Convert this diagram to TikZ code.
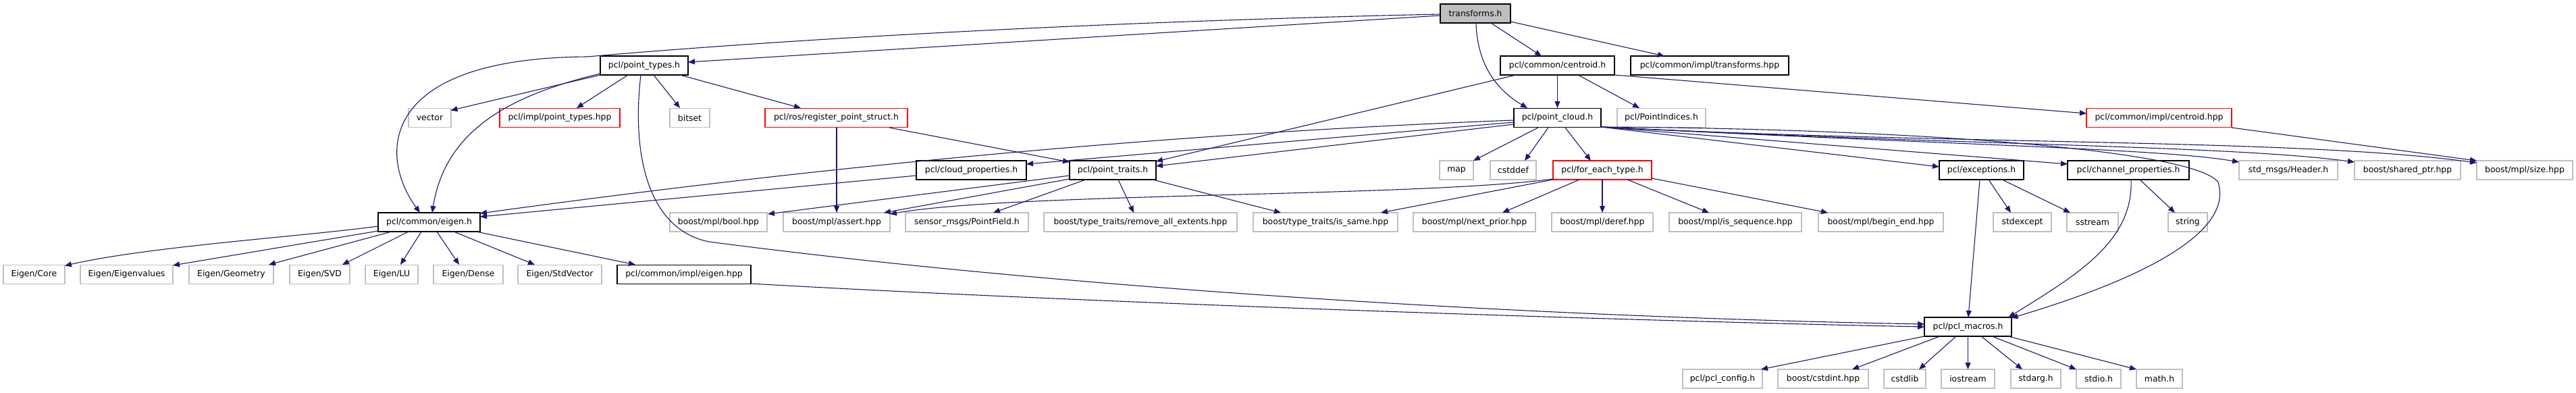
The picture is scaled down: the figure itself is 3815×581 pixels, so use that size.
\documentclass[tikz,border=0pt]{standalone}
\usepackage{fontspec}
\setmainfont{DejaVu Sans}
\usetikzlibrary{arrows.meta,calc}
\definecolor{edgec}{HTML}{191970}
\definecolor{grayb}{HTML}{BFBFBF}
\tikzset{
  fbox/.style={draw=black, line width=1.1pt, fill=white, minimum height=28pt, inner sep=0pt, minimum width=#1, font=\fontsize{12.4pt}{14pt}\selectfont},
  nb/.style={fbox=#1},
  gb/.style={fbox=#1, draw=grayb},
  rb/.style={fbox=#1, draw=red},
  rootb/.style={fbox=#1, fill=grayb},
  dep/.style={draw=edgec, line width=1.1pt, -{Triangle[length=10pt,width=8pt]}}
}
\begin{document}
\begin{tikzpicture}[x=1pt,y=-1pt]
\useasboundingbox (0,0) rectangle (3815,581);
\fill[white] (0,0) rectangle (3815,581);
% row 0
\node[rootb=104pt] (root) at (2185,20) {transforms.h};
% row 1
\node[nb=130pt] (pt) at (954,97) {pcl/point\_types.h};
\node[nb=169pt] (cen) at (2306.5,97) {pcl/common/centroid.h};
\node[nb=234pt] (trh) at (2532,97) {pcl/common/impl/transforms.hpp};
% row 2
\node[gb=63pt] (vec) at (636.5,174.5) {vector};
\node[rb=178pt] (pth) at (829,174.5) {pcl/impl/point\_types.hpp};
\node[gb=59pt] (bit) at (1021.5,174.5) {bitset};
\node[rb=211pt] (rps) at (1238.5,174.5) {pcl/ros/register\_point\_struct.h};
\node[nb=129pt] (pc) at (2306.5,174.5) {pcl/point\_cloud.h};
\node[gb=131pt] (pi) at (2460.5,174.5) {pcl/PointIndices.h};
\node[rb=215pt] (ch) at (3197.5,174.5) {pcl/common/impl/centroid.hpp};
% row 3
\node[nb=163pt] (cp) at (1438.5,252) {pcl/cloud\_properties.h};
\node[nb=128pt] (ptr) at (1648,252) {pcl/point\_traits.h};
\node[gb=50pt] (map) at (2157,252) {map};
\node[gb=68pt] (cstd) at (2241,252) {cstddef};
\node[rb=146pt] (fet) at (2373,252) {pcl/for\_each\_type.h};
\node[nb=125pt] (exc) at (2934.5,252) {pcl/exceptions.h};
\node[nb=180pt] (chp) at (3152,252) {pcl/channel\_properties.h};
\node[gb=146pt] (hdr) at (3389,252) {std\_msgs/Header.h};
\node[gb=157pt] (sp) at (3565.5,252) {boost/shared\_ptr.hpp};
\node[gb=142pt] (sz) at (3739,252) {boost/mpl/size.hpp};
% row 4
\node[nb=151pt] (eig) at (635.5,329) {pcl/common/eigen.h};
\node[gb=144pt] (bool) at (1064,329) {boost/mpl/bool.hpp};
\node[gb=158pt] (assert) at (1239,329) {boost/mpl/assert.hpp};
\node[gb=182pt] (pf) at (1432,329) {sensor\_msgs/PointField.h};
\node[gb=286pt] (rae) at (1689,329) {boost/type\_traits/remove\_all\_extents.hpp};
\node[gb=214pt] (same) at (1963,329) {boost/type\_traits/is\_same.hpp};
\node[gb=181pt] (np) at (2183.5,329) {boost/mpl/next\_prior.hpp};
\node[gb=150pt] (deref) at (2373,329) {boost/mpl/deref.hpp};
\node[gb=196pt] (iseq) at (2570,329) {boost/mpl/is\_sequence.hpp};
\node[gb=185pt] (be) at (2785.5,329) {boost/mpl/begin\_end.hpp};
\node[gb=86pt] (stdexc) at (2995,329) {stdexcept};
\node[gb=76pt] (sstr) at (3099,329) {sstream};
\node[gb=58pt] (str) at (3240,329) {string};
% row 5
\node[gb=91pt] (core) at (50.5,406.5) {Eigen/Core};
\node[gb=137pt] (eval) at (187.5,406.5) {Eigen/Eigenvalues};
\node[gb=125pt] (geo) at (342.5,406.5) {Eigen/Geometry};
\node[gb=89pt] (svd) at (473.5,406.5) {Eigen/SVD};
\node[gb=78pt] (lu) at (580,406.5) {Eigen/LU};
\node[gb=103pt] (dense) at (693.5,406.5) {Eigen/Dense};
\node[gb=124pt] (stdv) at (829,406.5) {Eigen/StdVector};
\node[nb=198pt] (eighpp) at (1013,406.5) {pcl/common/impl/eigen.hpp};
% row 6
\node[nb=129pt] (mac) at (2914.5,484) {pcl/pcl\_macros.h};
% row 7
\node[gb=118pt] (cfg) at (2551,561) {pcl/pcl\_config.h};
\node[gb=134pt] (cint) at (2700,561) {boost/cstdint.hpp};
\node[gb=62pt] (clib) at (2821,561) {cstdlib};
\node[gb=79pt] (ios) at (2914.5,561) {iostream};
\node[gb=74pt] (sarg) at (3015,561) {stdarg.h};
\node[gb=66pt] (sio) at (3108,561) {stdio.h};
\node[gb=68pt] (math) at (3198,561) {math.h};

% edges from transforms.h
\draw[dep] ($(root)+(-52,3)$) -- ($(pt)+(65,-5)$);
\draw[dep] ($(root)+(-52,1)$) .. controls (1500,35) and (1050,68) .. (870,84) .. controls (560,86) and (560,230) .. ($(eig)+(-13.5,-14)$);
\draw[dep] ($(root)+(1,14)$) .. controls (2188,100) and (2220,135) .. ($(pc)+(-44.5,-14.5)$);
\draw[dep] ($(root)+(23,14)$) -- ($(cen)+(-23.5,-14)$);
\draw[dep] ($(root)+(52,12)$) -- ($(trh)+(-67,-14)$);
% point_types.h
\draw[dep] ($(pt)+(-65,14)$) -- ($(vec)+(31,-11)$);
\draw[dep] ($(pt)+(-24,14)$) -- ($(pth)+(25,-14.5)$);
\draw[dep] ($(pt)+(14,14)$) -- ($(bit)+(-14.5,-14.5)$);
\draw[dep] ($(pt)+(53,14)$) -- ($(rps)+(-52.5,-14.5)$);
\draw[dep] ($(pt)+(-65,12)$) .. controls (760,140) and (660,190) .. ($(eig)+(4.5,-14)$);
\draw[dep] ($(pt)+(-5,14)$) .. controls (935,230) and (960,340) .. (1050,358) .. controls (1600,430) and (2300,470) .. ($(mac)+(-64.5,-4)$);
% register_point_struct.h
\draw[dep] ($(rps)+(78.5,14.5)$) -- ($(ptr)+(-64,-12)$);
\draw[dep] ($(rps)+(0.5,14.5)$) -- ($(assert)+(0,-14)$);
% centroid.h
\draw[dep] ($(cen)+(0,14)$) -- ($(pc)+(0,-14.5)$);
\draw[dep] ($(cen)+(30.5,14)$) -- ($(pi)+(-32.5,-14.5)$);
\draw[dep] ($(cen)+(-61.5,14)$) -- ($(ptr)+(64,-13)$);
\draw[dep] ($(cen)+(84.5,14)$) -- ($(ch)+(-107.5,-6.5)$);
% point_cloud.h
\draw[dep] ($(pc)+(-64.5,3.5)$) .. controls (1800,195) and (1300,235) .. ($(eig)+(75.5,-13)$);
\draw[dep] ($(pc)+(-64.5,6.5)$) -- ($(cp)+(81.5,-9)$);
\draw[dep] ($(pc)+(-64.5,9.5)$) -- ($(ptr)+(64,-6)$);
\draw[dep] ($(pc)+(-28.5,14.5)$) -- ($(map)+(25,-14)$);
\draw[dep] ($(pc)+(-13.5,14.5)$) -- ($(cstd)+(17,-14)$);
\draw[dep] ($(pc)+(11.5,14.5)$) -- ($(fet)+(-17,-14)$);
\draw[dep] ($(pc)+(64.5,13.5)$) -- ($(exc)+(-62.5,-5)$);
\draw[dep] ($(pc)+(64.5,13.5)$) -- ($(chp)+(-90,-9)$);
\draw[dep] ($(pc)+(64.5,13.5)$) .. controls (2900,215) and (3200,220) .. ($(hdr)+(-73,-12)$);
\draw[dep] ($(pc)+(64.5,13.5)$) .. controls (2900,215) and (3300,215) .. ($(sp)+(-78.5,-12)$);
\draw[dep] ($(pc)+(64.5,13.5)$) .. controls (2900,215) and (3400,205) .. ($(sz)+(-71,-11)$);
\draw[dep] ($(pc)+(64.5,13.5)$) .. controls (2800,190) and (3250,220) .. (3285,270) .. controls (3310,350) and (3150,420) .. ($(mac)+(64,-13)$);
% centroid.hpp
\draw[dep] ($(ch)+(107.5,14.5)$) -- ($(sz)+(-71,-14)$);
% point_traits.h
\draw[dep] ($(ptr)+(-64,8)$) -- ($(bool)+(73,-12)$);
\draw[dep] ($(ptr)+(-64,13)$) -- ($(assert)+(70,-14)$);
\draw[dep] ($(ptr)+(-40,14)$) -- ($(pf)+(39,-14)$);
\draw[dep] ($(ptr)+(8,14)$) -- ($(rae)+(-10,-14)$);
\draw[dep] ($(ptr)+(59,14)$) -- ($(same)+(-66,-14)$);
% cloud_properties.h
\draw[dep] ($(cp)+(-81.5,8)$) -- ($(eig)+(75.5,-8)$);
% for_each_type.h
\draw[dep] ($(fet)+(-73,13)$) .. controls (2100,292) and (1500,285) .. ($(assert)+(79,-12)$);
\draw[dep] ($(fet)+(-73,14)$) -- ($(same)+(82,-14)$);
\draw[dep] ($(fet)+(-34,14)$) -- ($(np)+(41.5,-14)$);
\draw[dep] ($(fet)+(0,14)$) -- ($(deref)+(0,-14)$);
\draw[dep] ($(fet)+(37,14)$) -- ($(iseq)+(-39,-14)$);
\draw[dep] ($(fet)+(73,12)$) -- ($(be)+(-78.5,-14)$);
% exceptions.h
\draw[dep] ($(exc)+(-2.5,14)$) -- ($(mac)+(0.5,-14)$);
\draw[dep] ($(exc)+(10.5,14)$) -- ($(stdexc)+(-17,-14)$);
\draw[dep] ($(exc)+(30.5,14)$) -- ($(sstr)+(-33,-14)$);
% channel_properties.h
\draw[dep] ($(chp)+(4,14)$) .. controls (3160,360) and (3070,410) .. ($(mac)+(60,-14)$);
\draw[dep] ($(chp)+(17,14)$) -- ($(str)+(-19,-14)$);
% eigen.h
\draw[dep] ($(eig)+(-75.5,6)$) .. controls (450,350) and (220,365) .. ($(core)+(45.5,-13)$);
\draw[dep] ($(eig)+(-75.5,13)$) -- ($(eval)+(68.5,-13.5)$);
\draw[dep] ($(eig)+(-55.5,14)$) -- ($(geo)+(55.5,-14.5)$);
\draw[dep] ($(eig)+(-30.5,14)$) -- ($(svd)+(33.5,-14.5)$);
\draw[dep] ($(eig)+(-11.5,14)$) -- ($(lu)+(13,-14.5)$);
\draw[dep] ($(eig)+(11.5,14)$) -- ($(dense)+(-13.5,-14.5)$);
\draw[dep] ($(eig)+(36.5,14)$) -- ($(stdv)+(-37,-14.5)$);
\draw[dep] ($(eig)+(69.5,14)$) -- ($(eighpp)+(-72,-14.5)$);
% eigen.hpp
\draw[dep] ($(eighpp)+(99,13.5)$) .. controls (1600,448) and (2400,475) .. ($(mac)+(-64.5,0)$);
% pcl_macros.h
\draw[dep] ($(mac)+(-64.5,14)$) -- ($(cfg)+(57,-14)$);
\draw[dep] ($(mac)+(-41.5,14)$) -- ($(cint)+(43,-14)$);
\draw[dep] ($(mac)+(-17.5,14)$) -- ($(clib)+(21,-14)$);
\draw[dep] ($(mac)+(0,14)$) -- ($(ios)+(0,-14)$);
\draw[dep] ($(mac)+(19.5,14)$) -- ($(sarg)+(-20,-14)$);
\draw[dep] ($(mac)+(35.5,14)$) -- ($(sio)+(-33,-14)$);
\draw[dep] ($(mac)+(59.5,14)$) -- ($(math)+(-34,-14)$);
\end{tikzpicture}
\end{document}
